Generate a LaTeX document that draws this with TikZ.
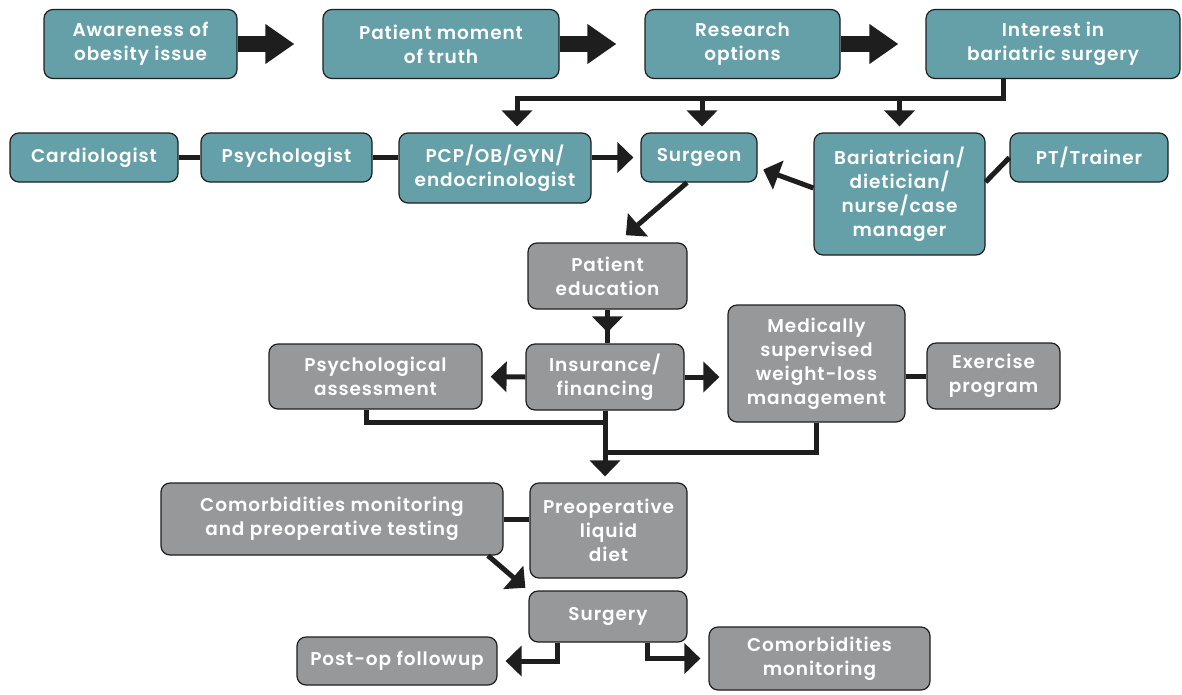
\documentclass[tikz,border=0pt]{standalone}
\usepackage{fontspec}
\setmainfont{Poppins}[UprightFont={* SemiBold}, LetterSpace=5]
\usetikzlibrary{arrows.meta}

\definecolor{tealfill}{HTML}{65A0A9}
\definecolor{grayfill}{HTML}{97989A}
\definecolor{linkcol}{HTML}{1E1E1E}

\begin{document}
\begin{tikzpicture}[x=1pt, y=-1pt,
	every node/.style={font=\fontsize{18.5}{24}\selectfont},
	tealbox/.style={draw=linkcol, fill=tealfill, rounded corners=9pt, line width=1.2pt, text=white, align=center, inner sep=0pt},
	graybox/.style={tealbox, fill=grayfill},
	link/.style={draw=linkcol, line width=5pt},
	tip/.style={-{Triangle[length=16pt,width=30pt]}},
	bigarrow/.style={draw=linkcol, line width=16pt, -{Triangle[length=29pt,width=38pt]}}]
			
			\useasboundingbox (0,0) rectangle (1182,694);
			
			\node[tealbox, minimum width=193pt, minimum height=69pt] (aware) at (140.5,44) {Awareness of\\obesity issue};
			\node[tealbox, minimum width=236pt, minimum height=69pt] (moment) at (441,44) {Patient moment\\of truth};
			\node[tealbox, minimum width=195pt, minimum height=69pt] (research) at (742.5,44) {Research\\options};
			\node[tealbox, minimum width=254pt, minimum height=69pt] (interest) at (1053,44) {Interest in\\bariatric surgery};
			
			\node[tealbox, minimum width=168pt, minimum height=49pt] (cardio) at (94,157.5) {Cardiologist};
			\node[tealbox, minimum width=171pt, minimum height=49pt] (psych) at (286.5,157.5) {Psychologist};
			\node[tealbox, minimum width=192pt, minimum height=70pt] (pcp) at (495,168) {PCP/OB/GYN/\\endocrinologist};
			\node[tealbox, minimum width=116pt, minimum height=49pt] (surgeon) at (699,157.5) {Surgeon};
			\node[tealbox, minimum width=171pt, minimum height=122pt] (bariat) at (899.5,194) {Bariatrician/\\dietician/\\nurse/case\\manager};
			\node[tealbox, minimum width=158pt, minimum height=49pt] (trainer) at (1089,157.5) {PT/Trainer};
			
			\node[graybox, minimum width=159pt, minimum height=66pt] (educ) at (607.5,276) {Patient\\education};
			\node[graybox, minimum width=158pt, minimum height=66pt] (insur) at (605,377) {Insurance/\\financing};
			\node[graybox, minimum width=213pt, minimum height=65pt] (psyassess) at (375.5,376.5) {Psychological\\assessment};
			\node[graybox, minimum width=177pt, minimum height=117pt] (medical) at (816.5,363.5) {Medically\\supervised\\weight-loss\\management};
			\node[graybox, minimum width=133pt, minimum height=66pt] (exercise) at (993.5,376) {Exercise\\program};
			
			\node[graybox, minimum width=342pt, minimum height=72pt] (preoptest) at (332,519) {Comorbidities monitoring\\and preoperative testing};
			\node[graybox, minimum width=157pt, minimum height=95pt] (liquid) at (608.5,530.5) {Preoperative\\liquid\\diet};
			\node[graybox, minimum width=158pt, minimum height=51pt] (surgery) at (608,616.5) {Surgery};
			\node[graybox, minimum width=200pt, minimum height=48pt] (postop) at (397,661) {Post-op followup};
			\node[graybox, minimum width=221pt, minimum height=63pt] (comorb) at (819.5,658.5) {Comorbidities\\monitoring};
			
			\coordinate (bus) at (1003,98);
			\coordinate (merge) at (insur.south |- 0,422);
			\coordinate (merge2) at (insur.south |- 0,452);
			
			\draw[bigarrow, shorten >=28pt] (aware) -- (moment);
			\draw[bigarrow, shorten >=28pt] (moment) -- (research);
			\draw[bigarrow, shorten >=27pt] (research) -- (interest);
			
			\draw[link, tip, shorten >=6pt] (interest.south -| bus) -- (bus) -| ([xshift=22pt]pcp.north);
			\draw[link, tip, shorten >=6pt] ([xshift=3pt]surgeon.north |- bus) -- ([xshift=3pt]surgeon.north);
			\draw[link, tip, shorten >=6pt] (bariat.north |- bus) -- (bariat.north);
			
			\draw[link] (cardio) -- (psych);
			\draw[link] (psych.east) -- (psych.east -| pcp.west);
			\draw[link, tip, shorten >=7pt] (pcp.east |- surgeon) -- (surgeon.west);
			\draw[link, tip, shorten >=6pt] ([yshift=6pt]bariat.west) -- ([yshift=-10pt]surgeon.east);
			\draw[link] (trainer.west) -- ([yshift=12pt]bariat.east);
			\draw[link, tip, shorten >=11pt] ([xshift=-12pt]surgeon.south) -- ([xshift=10pt]educ.north);
			
			\draw[link] (educ.south) -- (educ.south |- insur.north);
			\draw[link, tip, shorten >=11pt] (educ.south) -- (educ.south |- insur.north);
			\draw[link, tip, shorten >=8pt] (insur.west) -- (psyassess.east);
			\draw[link, tip, shorten >=8pt] (insur.east) -- (insur.east -| medical.west);
			\draw[link] (medical.east |- exercise) -- (exercise.west);
			
			\draw[link] ([xshift=-9.5pt]psyassess.south) |- (merge);
			\draw[link] (medical.south) |- (merge2);
			\draw[link, tip, shorten >=6pt] (insur.south) -- (insur.south |- liquid.north);
			
			\draw[link] (preoptest.east) -- (preoptest.east -| liquid.west);
			\draw[link, tip, shorten >=4pt] ([xshift=156pt]preoptest.south) -- (surgery.north west);
			\draw[link, tip, shorten >=8pt] ([xshift=-51pt]surgery.south) |- (postop.east);
			\draw[link, tip, shorten >=8pt] ([xshift=39pt]surgery.south) |- (comorb.west);
			
			\end{tikzpicture}
\end{document}
